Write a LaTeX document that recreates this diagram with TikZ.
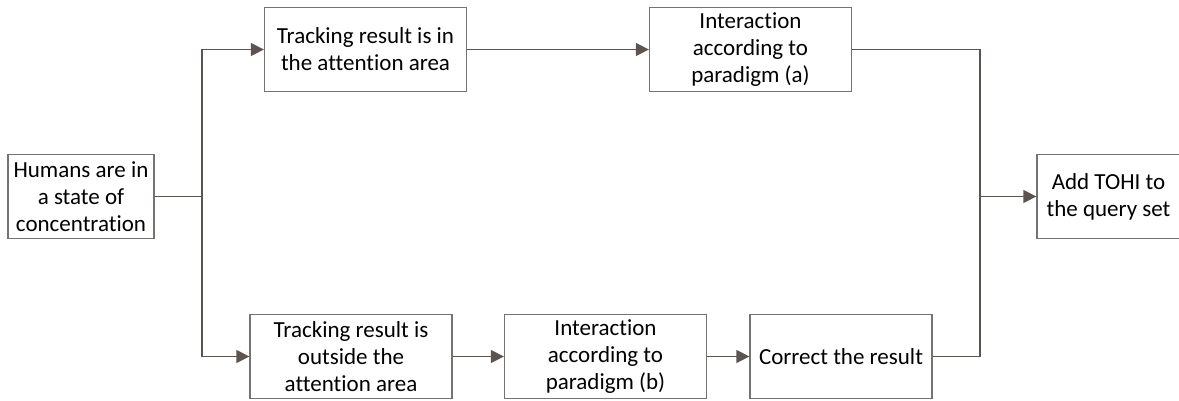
\documentclass[tikz,border=0pt]{standalone}
\usepackage{fontspec}
\setmainfont{Carlito}[Ligatures={NoCommon}]
\usetikzlibrary{arrows.meta}
\definecolor{linegray}{RGB}{92,84,80}
\definecolor{boxgray}{RGB}{118,114,112}
\begin{document}
\begin{tikzpicture}[x=1pt,y=-1pt,
  stepbox/.style={draw=boxgray,line width=1.3pt,fill=white,align=center,
    font=\fontsize{23}{27}\selectfont,inner sep=0pt,minimum height=84pt},
  conn/.style={draw=linegray,line width=1.5pt},
  arr/.style={conn,-{Triangle[length=13pt,width=13pt]}}]
\useasboundingbox (0,0) rectangle (1179,400);

\node[stepbox,minimum width=146pt] (hum) at (81,196.5) {Humans are in\\a state of\\concentration};
\node[stepbox,minimum width=202pt] (t1) at (365.5,49.5) {Tracking result is in\\the attention area};
\node[stepbox,minimum width=202pt] (t2) at (750.5,49.5) {Interaction\\according to\\paradigm (a)};
\node[stepbox,minimum width=202pt] (b1) at (351,356.5) {Tracking result is\\outside the\\attention area};
\node[stepbox,minimum width=202pt] (b2) at (605.5,356.5) {Interaction\\according to\\paradigm (b)};
\node[stepbox,minimum width=182pt] (b3) at (841,356.5) {Correct the result};
\node[stepbox,minimum width=143pt] (add) at (1108.5,196.5) {Add TOHI to\\the query set};

\coordinate (sp) at (202,196.5);
\coordinate (jn) at (980,196.5);

\draw[conn] (hum.east) -- (sp);
\draw[arr] (sp) |- (t1.west);
\draw[arr] (sp) |- (b1.west);
\draw[arr] (t1) -- (t2);
\draw[arr] (b1) -- (b2);
\draw[arr] (b2) -- (b3);
\draw[conn] (t2.east) -| (jn);
\draw[conn] (b3.east) -| (jn);
\draw[arr] (jn) -- (add.west);
\end{tikzpicture}
\end{document}
